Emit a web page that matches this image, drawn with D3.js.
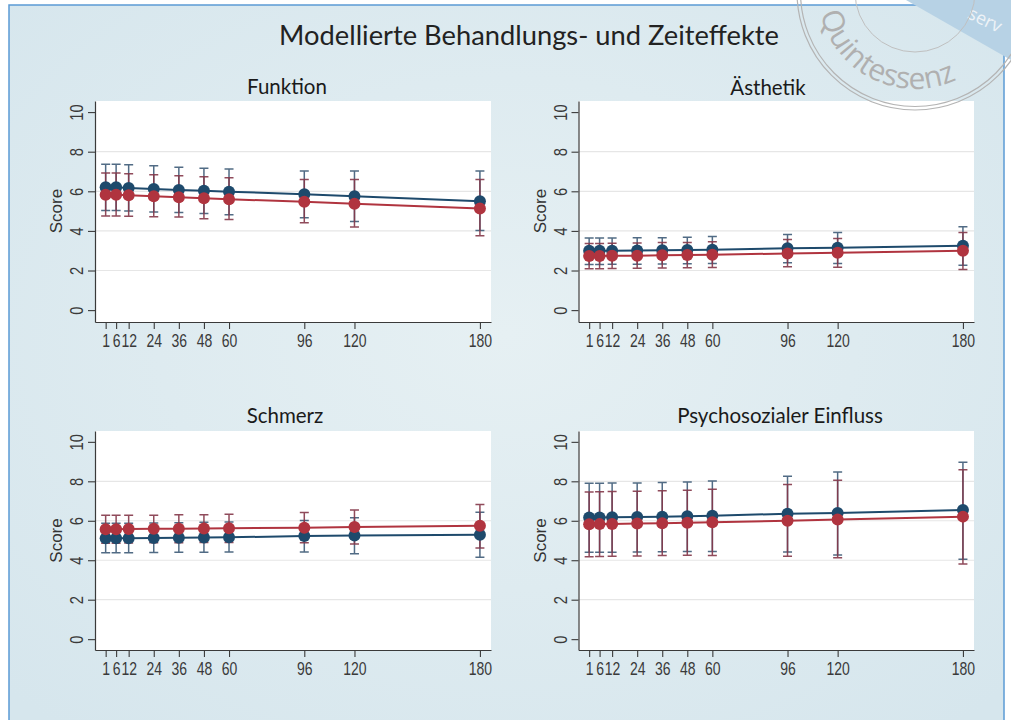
<!DOCTYPE html>
<html><head><meta charset="utf-8">
<script src="https://cdn.jsdelivr.net/npm/d3@7"></script>
<style>html,body{margin:0;padding:0;background:#fff;overflow:hidden}</style>
</head><body><svg id="c" width="1011" height="720"></svg>
<script>
// ---------- data ----------
const months = [1, 6, 12, 24, 36, 48, 60, 96, 120, 180];
const xTickLabels = ["1", "6", "12", "24", "36", "48", "60", "96", "120", "180"];
const yTickValues = [0, 2, 4, 6, 8, 10];
const gridValues = [2, 4, 6, 8];
const mainTitle = "Modellierte Behandlungs- und Zeiteffekte";
const panelTitles = ["Funktion", "Ästhetik", "Schmerz", "Psychosozialer Einfluss"];
const yAxisTitle = "Score";

const funktionBlueMean = [6.20, 6.20, 6.17, 6.12, 6.07, 6.03, 5.98, 5.85, 5.75, 5.50];
const funktionBlueLo   = [5.03, 5.03, 5.00, 4.95, 4.93, 4.88, 4.82, 4.67, 4.48, 4.02];
const funktionBlueHi   = [7.36, 7.36, 7.34, 7.29, 7.21, 7.17, 7.12, 7.03, 7.02, 7.02];
const funktionRedMean  = [5.83, 5.82, 5.80, 5.75, 5.70, 5.65, 5.60, 5.47, 5.37, 5.13];
const funktionRedLo    = [4.75, 4.75, 4.74, 4.71, 4.70, 4.62, 4.57, 4.41, 4.20, 3.75];
const funktionRedHi    = [6.93, 6.93, 6.88, 6.83, 6.78, 6.73, 6.68, 6.60, 6.60, 6.60];

const aesthetikBlueMean = [3.00, 3.00, 3.00, 3.01, 3.02, 3.03, 3.05, 3.12, 3.15, 3.25];
const aesthetikBlueLo   = [2.30, 2.30, 2.31, 2.32, 2.33, 2.34, 2.35, 2.39, 2.36, 2.27];
const aesthetikBlueHi   = [3.64, 3.64, 3.64, 3.65, 3.66, 3.68, 3.72, 3.82, 3.92, 4.21];
const aesthetikRedMean  = [2.73, 2.73, 2.74, 2.75, 2.77, 2.78, 2.80, 2.86, 2.90, 3.00];
const aesthetikRedLo    = [2.09, 2.09, 2.10, 2.11, 2.13, 2.14, 2.15, 2.19, 2.16, 2.05];
const aesthetikRedHi    = [3.37, 3.37, 3.38, 3.39, 3.41, 3.42, 3.45, 3.57, 3.62, 3.92];

const schmerzBlueMean = [5.11, 5.11, 5.12, 5.13, 5.14, 5.15, 5.16, 5.23, 5.25, 5.29];
const schmerzBlueLo   = [4.38, 4.38, 4.38, 4.39, 4.40, 4.41, 4.42, 4.42, 4.33, 4.15];
const schmerzBlueHi   = [5.87, 5.87, 5.88, 5.89, 5.90, 5.92, 5.94, 6.02, 6.15, 6.43];
const schmerzRedMean  = [5.57, 5.57, 5.58, 5.59, 5.60, 5.61, 5.62, 5.65, 5.68, 5.75];
const schmerzRedLo    = [4.86, 4.86, 4.87, 4.88, 4.89, 4.90, 4.90, 4.88, 4.82, 4.62];
const schmerzRedHi    = [6.28, 6.28, 6.28, 6.28, 6.30, 6.31, 6.33, 6.42, 6.54, 6.83];

const psychoBlueMean = [6.17, 6.17, 6.18, 6.19, 6.21, 6.23, 6.25, 6.36, 6.40, 6.54];
const psychoBlueLo   = [4.40, 4.40, 4.41, 4.42, 4.43, 4.44, 4.44, 4.42, 4.27, 4.05];
const psychoBlueHi   = [7.90, 7.90, 7.91, 7.92, 7.94, 7.97, 8.02, 8.26, 8.47, 8.97];
const psychoRedMean  = [5.82, 5.83, 5.84, 5.86, 5.88, 5.90, 5.92, 6.00, 6.06, 6.21];
const psychoRedLo    = [4.18, 4.19, 4.20, 4.22, 4.24, 4.25, 4.24, 4.20, 4.12, 3.81];
const psychoRedHi    = [7.46, 7.47, 7.48, 7.50, 7.52, 7.55, 7.60, 7.84, 8.06, 8.58];

// ---------- styles ----------
const BLUE = "#1e4a6c", RED = "#b0343f";
const BLUE_CI = "#3f5c78", RED_CI = "#84384a";

const svg = d3.select("#c");
const defs = svg.append("defs");
const grad = defs.append("radialGradient").attr("id", "bg").attr("cx", "50%").attr("cy", "45%").attr("r", "70%");
grad.append("stop").attr("offset", "0%").attr("stop-color", "#e6f0f3");
grad.append("stop").attr("offset", "100%").attr("stop-color", "#d6e6ed");

svg.append("rect").attr("width", 1011).attr("height", 720).attr("fill", "#fff");
svg.append("rect").attr("x", 9).attr("y", 5).attr("width", 995).attr("height", 730)
  .attr("fill", "url(#bg)").attr("stroke", "#5b9bd5").attr("stroke-width", 1.5);

svg.append("text").attr("x", 529).attr("y", 45).attr("text-anchor", "middle")
  .attr("font-family", "Lato").attr("font-size", 27.3).attr("fill", "#222").text(mainTitle);

const panels = [
  { title: panelTitles[0], tx: 287, ty: 94, left: 95, right: 491, top: 101, bottom: 322, yd: [-0.6, 10.56],
    blue: [funktionBlueMean, funktionBlueLo, funktionBlueHi], red: [funktionRedMean, funktionRedLo, funktionRedHi] },
  { title: panelTitles[1], tx: 768, ty: 95, left: 578.5, right: 974, top: 101, bottom: 322, yd: [-0.6, 10.56],
    blue: [aesthetikBlueMean, aesthetikBlueLo, aesthetikBlueHi], red: [aesthetikRedMean, aesthetikRedLo, aesthetikRedHi] },
  { title: panelTitles[2], tx: 285, ty: 423, left: 95, right: 491, top: 431, bottom: 650, yd: [-0.55, 10.55],
    blue: [schmerzBlueMean, schmerzBlueLo, schmerzBlueHi], red: [schmerzRedMean, schmerzRedLo, schmerzRedHi] },
  { title: panelTitles[3], tx: 780, ty: 423, left: 578.5, right: 974, top: 431, bottom: 650, yd: [-0.55, 10.55],
    blue: [psychoBlueMean, psychoBlueLo, psychoBlueHi], red: [psychoRedMean, psychoRedLo, psychoRedHi] }
];

panels.forEach(p => {
  const x = d3.scaleLinear().domain([-4.1, 185.3]).range([p.left, p.right]);
  const y = d3.scaleLinear().domain(p.yd).range([p.bottom, p.top]);
  const g = svg.append("g");

  g.append("rect").attr("x", p.left).attr("y", p.top).attr("width", p.right - p.left)
    .attr("height", p.bottom - p.top).attr("fill", "#fff");

  g.append("text").attr("x", p.tx).attr("y", p.ty).attr("text-anchor", "middle")
    .attr("font-family", "Lato").attr("font-size", 20.5).attr("fill", "#1a1a1a").text(p.title);

  g.selectAll("line.grid").data(gridValues).join("line").attr("class", "grid")
    .attr("x1", p.left).attr("x2", p.right).attr("y1", d => y(d)).attr("y2", d => y(d))
    .attr("stroke", "#e6e6e6").attr("stroke-width", 1.2);

  // axes
  const gx = g.append("g").attr("transform", `translate(0,${p.bottom})`)
    .call(d3.axisBottom(x).tickValues(months).tickSize(7).tickSizeOuter(0)
      .tickFormat((d, i) => xTickLabels[i]));
  const gy = g.append("g").attr("transform", `translate(${p.left},0)`)
    .call(d3.axisLeft(y).tickValues(yTickValues).tickSize(7).tickSizeOuter(0));
  [gx, gy].forEach(a => {
    a.select(".domain").attr("stroke", "#3a3a3a").attr("stroke-width", 1.2);
    a.selectAll(".tick line").attr("stroke", "#3a3a3a").attr("stroke-width", 1.1);
    a.selectAll(".tick text").attr("fill", "#3a3a3a").attr("font-family", "Liberation Sans")
      .attr("font-size", 17.5);
  });
  gx.selectAll(".tick text").attr("y", 0).attr("dy", 0)
    .attr("transform", "translate(0,25) scale(0.8,1)");
  gy.selectAll(".tick text").attr("x", 0).attr("dy", 0).attr("text-anchor", "middle")
    .attr("transform", "translate(-12,0) rotate(-90) scale(0.84,1)");

  g.append("text").attr("text-anchor", "middle").attr("font-family", "Liberation Sans")
    .attr("font-size", 17).attr("fill", "#333")
    .attr("transform", `translate(${p.left - 33},${y(5)}) rotate(-90)`).text(yAxisTitle);

  // error bars
  const drawCI = (s, col) => {
    const [m, lo, hi] = s;
    const eg = g.append("g").attr("stroke", col).attr("stroke-width", 1.5).attr("fill", "none").attr("opacity", 0.9);
    eg.selectAll("path").data(months).join("path")
      .attr("d", (d, i) => {
        const cx = x(d), y1 = y(lo[i]), y2 = y(hi[i]);
        return `M${cx},${y1}V${y2}M${cx - 4.5},${y1}H${cx + 4.5}M${cx - 4.5},${y2}H${cx + 4.5}`;
      });
  };
  drawCI(p.blue, BLUE_CI);
  drawCI(p.red, RED_CI);

  const line = d3.line().x((d, i) => x(months[i])).y(d => y(d));
  const drawSeries = (s, col) => {
    g.append("path").datum(s[0]).attr("d", line).attr("fill", "none")
      .attr("stroke", col).attr("stroke-width", 2);
  };
  drawSeries(p.blue, BLUE);
  drawSeries(p.red, RED);
  const drawPts = (s, col) => {
    g.append("g").selectAll("circle").data(s[0]).join("circle")
      .attr("cx", (d, i) => x(months[i])).attr("cy", d => y(d)).attr("r", 6)
      .attr("fill", col);
  };
  drawPts(p.blue, BLUE);
  drawPts(p.red, RED);
});

// ---------- watermark ----------
const wm = svg.append("g");
wm.append("path").attr("d", "M906,0L1011,0L1011,60Z").attr("fill", "#b7d2e5");
wm.append("text").attr("text-anchor", "end").attr("font-family", "Open Sans")
  .attr("font-size", 18).attr("fill", "#eef3f7")
  .attr("transform", "translate(998,33) rotate(26)").text("serv");
const wcx = 915, wcy = -8;
[118, 114.5].forEach(r => wm.append("circle").attr("cx", wcx).attr("cy", wcy).attr("r", r)
  .attr("fill", "none").attr("stroke", "#b4b4b4").attr("stroke-width", 1.2));
wm.append("circle").attr("cx", wcx).attr("cy", wcy).attr("r", 60)
  .attr("fill", "none").attr("stroke", "#c0c0c0").attr("stroke-width", 1);
const R = 97;
defs.append("path").attr("id", "stampArc")
  .attr("d", `M${wcx - R},${wcy}A${R},${R} 0 0 0 ${wcx + R},${wcy}`);
wm.append("text").attr("font-family", "Open Sans").attr("font-size", 30).attr("fill", "#b0b0b0")
  .append("textPath").attr("href", "#stampArc").attr("startOffset", 22).text("Quintessenz");
</script>
</body></html>
